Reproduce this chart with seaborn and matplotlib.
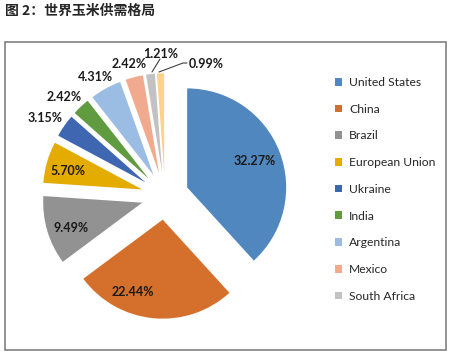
import matplotlib
matplotlib.use("Agg")
import matplotlib.pyplot as plt
from matplotlib.patches import Patch, Rectangle
import seaborn as sns

sns.set_theme(style="white")
plt.rcParams['font.family'] = ['Lato', 'DejaVu Sans']

# ---- data ----
categories = ["United States", "China", "Brazil", "European Union", "Ukraine",
              "India", "Argentina", "Mexico", "South Africa", "Other"]
shares = [32.27, 22.44, 9.49, 5.70, 3.15, 2.42, 4.31, 2.42, 1.21, 0.99]
label_text = ["32.27%", "22.44%", "9.49%", "5.70%", "3.15%",
              "2.42%", "4.31%", "2.42%", "1.21%", "0.99%"]
legend_count = 9  # the last entry is cut off in the original legend

colors = ["#4F87BE", "#D5702C", "#929292", "#E5AC00", "#3F67B1",
          "#609B3F", "#9BBDE3", "#F1AA8E", "#C2C2C2", "#FFD28A"]

# ---- layout (pixel space, origin top-left) ----
W, H = 457, 360
center_px = (165, 196)
radius_px = 99
explode_frac = 0.24
label_pos_px = [(255, 161), (133, 292), (71, 228), (68, 171), (45, 118),
                (64, 97), (95, 77), (129, 64), (161, 54), (206, 64)]

fig = plt.figure(figsize=(W / 100, H / 100), dpi=100)
ax = fig.add_axes([0, 0, 1, 1])


def py(y):
    return H - y


wedges, _ = ax.pie(shares, colors=colors, startangle=90, counterclock=False,
                   explode=[explode_frac * radius_px] * len(shares),
                   radius=radius_px,
                   center=(center_px[0], py(center_px[1])),
                   wedgeprops=dict(linewidth=0), frame=True)
ax.set_xlim(0, W)
ax.set_ylim(0, H)
ax.set_aspect('equal')
ax.axis('off')

for txt, (x, y) in zip(label_text, label_pos_px):
    ax.text(x, py(y), txt, ha='center', va='center', fontsize=9,
            fontweight='bold', color='#1a1a1a')

# leader lines for the two smallest slices
ax.plot([152, 160], [py(72), py(59)], color='#404040', lw=0.8)
ax.plot([159, 183, 187], [py(72), py(63), py(63)], color='#404040', lw=0.8)

# chart border
ax.add_patch(Rectangle((4.5, py(349.5)), 441.5, 308, fill=False,
                       edgecolor='#808080', lw=1.2))

# legend
handles = [Patch(facecolor=c, edgecolor='none') for c in colors[:legend_count]]
leg = ax.legend(handles, categories[:legend_count], loc='upper left',
                bbox_to_anchor=(335 / W, 1 - 77 / H), frameon=False,
                fontsize=8.7, handlelength=0.6, handleheight=0.6,
                handletextpad=0.55, labelspacing=1.3, borderaxespad=0,
                borderpad=0)
for t in leg.get_texts():
    t.set_color('#262626')

# title
fig.text(5 / W, 1 - 11 / H, "图 2：世界玉米供需格局", ha='left', va='center',
         fontsize=10, fontweight='bold',
         family=['Noto Sans CJK SC', 'DejaVu Sans'])

fig.savefig("out.png", dpi=100)
